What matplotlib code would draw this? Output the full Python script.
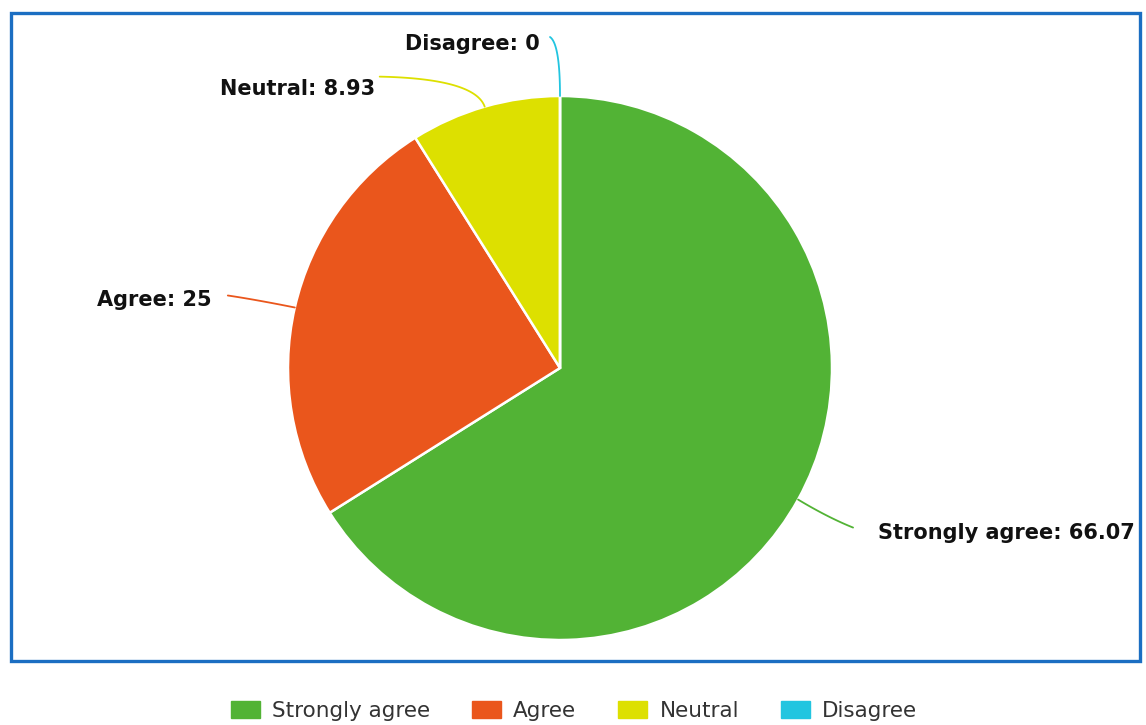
import numpy as np
import matplotlib.pyplot as plt
from matplotlib.patches import Rectangle, Patch

categories = ["Strongly agree", "Agree", "Neutral", "Disagree"]
values = [66.07, 25, 8.93, 0]
value_labels = ["66.07", "25", "8.93", "0"]
colors = ["#52b335", "#ea561c", "#dde000", "#22c5e0"]

W, H = 1146, 725
fig = plt.figure(figsize=(W / 100, H / 100), dpi=100)
ax = fig.add_axes([0, 0, 1, 1])

cx, cy, r = 560, 357, 272
wedges, _ = ax.pie(values, colors=colors, startangle=90, counterclock=False,
                   center=(cx, cy), radius=r, frame=True,
                   wedgeprops=dict(edgecolor="white", linewidth=1.8))
ax.set_xlim(0, W)
ax.set_ylim(0, H)
ax.set_aspect("equal")
ax.axis("off")

# label layout: (elbow dx, dy), (end dx, dy), text offset, ha
layout = [
    ((30, -18), (55, -28), (25, -5), "left"),
    ((-40, 8), (-67, 12), (-16, -5), "right"),
    ((-10, 28), (-105, 30), (-5, -12), "right"),
    ((0, 52), (-10, 59), (-10, -7), "right"),
]

for w, cat, vl, col, lay in zip(wedges, categories, value_labels, colors, layout):
    ang = np.deg2rad((w.theta1 + w.theta2) / 2)
    x0 = cx + r * np.cos(ang)
    y0 = cy + r * np.sin(ang)
    (ex, ey), (tx, ty), (ox, oy), ha = lay
    x1, y1 = x0 + ex, y0 + ey
    x2, y2 = x0 + tx, y0 + ty
    # smooth leader line through elbow
    t = np.linspace(0, 1, 40)
    bx = (1 - t) ** 2 * x0 + 2 * (1 - t) * t * x1 + t ** 2 * x2
    by = (1 - t) ** 2 * y0 + 2 * (1 - t) * t * y1 + t ** 2 * y2
    ax.plot(bx, by, color=col, lw=1.3, solid_capstyle="round")
    ax.text(x2 + ox, y2 + oy, f"{cat}: {vl}", ha=ha, va="center",
            fontsize=15, fontweight="bold", family="DejaVu Sans",
            color="#111111")

# blue frame
fig.patches.append(Rectangle((11 / W, 1 - 661 / H), (1140 - 11) / W, (661 - 13) / H,
                             transform=fig.transFigure, fill=False,
                             edgecolor="#1b6ec2", linewidth=2.4))

handles = [Patch(facecolor=c, edgecolor=c) for c in colors]
fig.legend(handles, categories, loc="center", bbox_to_anchor=(574 / W, 1 - 711 / H),
           ncol=4, frameon=False, handlelength=1.35, handleheight=0.88,
           handletextpad=0.56, columnspacing=1.95,
           prop=dict(family="DejaVu Sans", size=15.5), labelcolor="#333333")

fig.savefig("out.png", dpi=100)
